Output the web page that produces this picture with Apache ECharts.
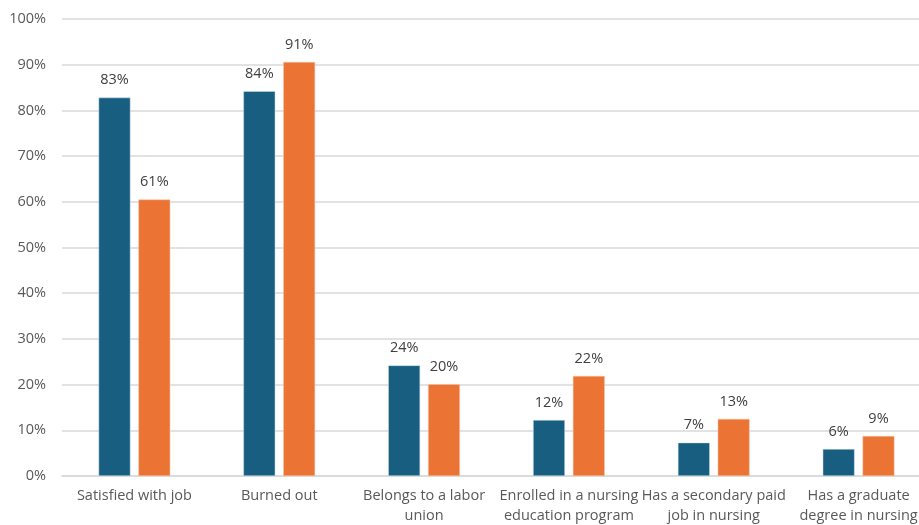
<!DOCTYPE html>
<html>
<head>
<meta charset="utf-8">
<script src="https://cdn.jsdelivr.net/npm/echarts@6/dist/echarts.min.js"></script>
<style>html,body{margin:0;padding:0;background:#fff;overflow:hidden}#c{width:919px;height:525px}</style>
</head>
<body>
<div id="c"></div>
<script>
var categories = ["Satisfied with job", "Burned out", "Belongs to a labor\nunion", "Enrolled in a nursing\neducation program", "Has a secondary paid\njob in nursing", "Has a graduate\ndegree in nursing"];
var seriesA = [82.8, 84.2, 24.2, 12.25, 7.3, 5.9];
var seriesB = [60.5, 90.6, 20.1, 21.9, 12.5, 8.75];
var yTicks = [0, 10, 20, 30, 40, 50, 60, 70, 80, 90, 100];

var font = "'Open Sans', 'Liberation Sans', sans-serif";
var chart = echarts.init(document.getElementById('c'));
function lbl() {
  return {
    show: true, position: 'top', distance: 10, color: '#404040', fontSize: 14.5, fontFamily: font,
    formatter: function (p) { return Math.round(p.value) + '%'; }
  };
}
chart.setOption({
  animation: false,
  grid: { left: 62, right: -12, top: 19, bottom: 49, containLabel: false, outerBoundsMode: 'none' },
  xAxis: {
    type: 'category', data: categories,
    axisLine: { show: true, lineStyle: { color: '#d9d9d9', width: 1.5 } },
    axisTick: { show: false },
    axisLabel: { color: '#595959', fontSize: 14.5, fontFamily: font, margin: 10, lineHeight: 20, interval: 0, hideOverlap: false }
  },
  yAxis: {
    type: 'value', min: 0, max: 100, interval: 10,
    axisLine: { show: false }, axisTick: { show: false },
    splitLine: { lineStyle: { color: '#d9d9d9', width: 1.5 } },
    axisLabel: { color: '#595959', fontSize: 14.5, fontFamily: font, margin: 16,
      formatter: function (v) { return yTicks.indexOf(v) >= 0 ? v + '%' : ''; } }
  },
  series: [
    { type: 'bar', data: seriesA, barWidth: '22%', barGap: '25%',
      itemStyle: { color: '#175e80', borderColor: '#cfe0ea', borderWidth: 0.5 }, label: lbl() },
    { type: 'bar', data: seriesB, barWidth: '22%',
      itemStyle: { color: '#eb7434', borderColor: '#f6c8ae', borderWidth: 0.5 }, label: lbl() }
  ]
});
</script>
</body>
</html>
